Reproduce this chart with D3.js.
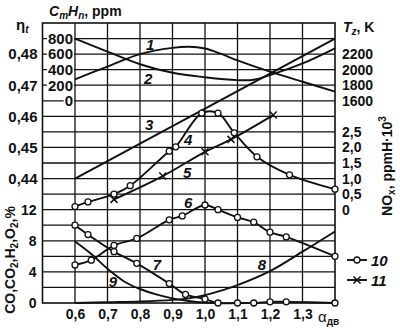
<!DOCTYPE html>
<html>
<head>
<meta charset="utf-8">
<script src="https://cdn.jsdelivr.net/npm/d3@7"></script>
<style>
  html, body { margin: 0; padding: 0; background: #fff; }
  svg { display: block; font-family: "Liberation Sans", Arial, sans-serif; font-weight: bold; }
</style>
</head>
<body>
<div id="chart"></div>
<script>
// Engine test curves vs. excess air ratio (alpha)
const alphaTicks = [0.6, 0.7, 0.8, 0.9, 1.0, 1.1, 1.2, 1.3];
const etaTicks = [0.44, 0.45, 0.46, 0.47, 0.48];
const ppmTicks = [0, 200, 400, 600, 800];
const tzTicks = [1600, 1800, 2000, 2200];
const noxTicks = [0, 0.5, 1.0, 1.5, 2.0, 2.5];
const pctTicks = [0, 4, 8, 12];

// [alpha, value]
const curve1Tz = [[0.6,1876],[0.7,2040],[0.8,2200],[0.9,2280],[0.95,2295],[1.0,2272],[1.05,2202],[1.1,2120],[1.2,1974],[1.3,1845],[1.4,1717]];
const curve2CmHn = [[0.6,800],[0.7,632],[0.8,470],[0.9,360],[1.0,302],[1.1,265],[1.15,270],[1.2,330],[1.3,480],[1.4,675]];
const curve3Eta = [[0.6,0.440],[1.4,0.485]];
const curve4NOx = [[0.6,0.10],[0.64,0.25],[0.72,0.50],[0.77,0.77],[0.89,1.88],[0.91,2.02],[0.99,3.10],[1.04,3.10],[1.09,2.47],[1.16,1.70],[1.26,1.12],[1.4,0.66]];
const curve5NOx = [[0.72,0.33],[0.87,1.08],[1.0,1.86],[1.08,2.26],[1.21,3.04]];
const curve6CO2 = [[0.6,4.9],[0.65,5.5],[0.72,7.4],[0.79,8.3],[0.89,10.7],[0.93,11.2],[1.0,12.6],[1.04,12.0],[1.1,11.0],[1.15,10.4],[1.2,9.1],[1.25,8.5],[1.4,6.0]];
const curve7CO = [[0.6,10.0],[0.64,8.8],[0.72,6.6],[0.79,5.1],[0.89,2.5],[0.94,1.1],[1.0,0.5],[1.04,0],[1.1,0],[1.15,0],[1.2,0.15],[1.25,0.15],[1.4,0]];
const curve8O2 = [[0.6,0],[0.7,0.1],[0.8,0.2],[0.9,0.4],[0.95,0.6],[1.0,1.0],[1.05,1.6],[1.1,2.3],[1.2,4.1],[1.3,6.6],[1.4,9.2]];
const curve9H2 = [[0.6,7.9],[0.65,6.3],[0.7,4.4],[0.75,2.8],[0.8,1.8],[0.85,1.1],[0.9,0.6],[0.95,0.25],[1.0,0.05],[1.05,0]];

// curve number labels: [text, alpha, position on % grid]
const curveLabels = [['1',0.831,33.2],['2',0.825,28.9],['3',0.828,22.9],['4',0.948,21.0],['5',0.945,16.8],['6',0.948,12.9],['7',0.852,4.9],['8',1.175,4.9],['9',0.717,2.8]];

(function() {
  const width = 400, height = 329;
  const top = 23, bottom = 303, left = 42.5, right = 335;
  const ink = '#111';

  const svg = d3.select('#chart').append('svg')
    .attr('width', width).attr('height', height);

  const x = d3.scaleLinear().domain([0.5, 1.4]).range([left, right]);
  const yPct = d3.scaleLinear().domain([0, 36]).range([bottom, top]);
  const yEta = d3.scaleLinear().domain([0.40, 0.49]).range([bottom, top]);
  const yPpm = d3.scaleLinear().domain([-2600, 1000]).range([bottom, top]);
  const yTz = d3.scaleLinear().domain([-1000, 2600]).range([bottom, top]);
  const yNox = d3.scaleLinear().domain([-3, 6]).range([bottom, top]);

  const comma = d => String(d).replace('.', ',');

  // grid
  const grid = svg.append('g').attr('stroke', ink).attr('stroke-width', 1.3);
  grid.selectAll('line.h').data(d3.range(2, 36, 2)).enter().append('line')
    .attr('x1', left).attr('x2', right)
    .attr('y1', d => yPct(d)).attr('y2', d => yPct(d));
  grid.selectAll('line.v').data(alphaTicks).enter().append('line')
    .attr('x1', d => x(d)).attr('x2', d => x(d))
    .attr('y1', top).attr('y2', bottom);
  svg.append('rect')
    .attr('x', left).attr('y', top)
    .attr('width', right - left).attr('height', bottom - top)
    .attr('fill', 'none').attr('stroke', ink).attr('stroke-width', 1.6);

  function styleAxis(size) {
    return g => {
      g.select('.domain').remove();
      g.attr('font-family', null).attr('font-size', size).attr('fill', ink);
      g.selectAll('text').attr('fill', ink);
    };
  }

  // left eta axis
  svg.append('g').attr('transform', `translate(${left - 4},0)`)
    .call(d3.axisLeft(yEta).tickValues(etaTicks).tickSize(0).tickPadding(1)
      .tickFormat(d => d3.format('.2f')(d).replace('.', ',')))
    .call(styleAxis(15));

  // left % axis
  svg.append('g').attr('transform', `translate(${left - 6},0)`)
    .call(d3.axisLeft(yPct).tickValues(pctTicks).tickSize(0).tickPadding(0).tickFormat(comma))
    .call(styleAxis(14));

  // ppm axis inside the frame, labels mask the grid
  const ppmAxis = svg.append('g').attr('transform', `translate(${x(0.6) - 2},0)`)
    .call(d3.axisLeft(yPpm).tickValues(ppmTicks).tickSize(0).tickPadding(0).tickFormat(comma))
    .call(styleAxis(15));
  ppmAxis.selectAll('.tick').each(function() {
    const t = d3.select(this).select('text');
    const b = t.node().getBBox();
    d3.select(this).insert('rect', 'text')
      .attr('x', b.x - 1).attr('y', b.y + 1)
      .attr('width', b.width + 2).attr('height', b.height - 2)
      .attr('fill', '#fff');
  });

  // right Tz axis
  svg.append('g').attr('transform', `translate(${right + 7},0)`)
    .call(d3.axisRight(yTz).tickValues(tzTicks).tickSize(0).tickPadding(0).tickFormat(d => d))
    .call(styleAxis(14));

  // right NOx axis
  svg.append('g').attr('transform', `translate(${right + 7},0)`)
    .call(d3.axisRight(yNox).tickValues(noxTicks).tickSize(0).tickPadding(0)
      .tickFormat(d => d === 0 ? '0' : d3.format('.1f')(d).replace('.', ',')))
    .call(styleAxis(14));

  // bottom alpha axis
  svg.append('g').attr('transform', `translate(0,${bottom + 6})`)
    .call(d3.axisBottom(x).tickValues(alphaTicks).tickSize(0).tickPadding(0)
      .tickFormat(d => d3.format('.1f')(d).replace('.', ',')))
    .call(styleAxis(14));

  // curves
  const curveGroup = svg.append('g').attr('fill', 'none').attr('stroke', ink).attr('stroke-width', 1.9);
  const line = y => d3.line().x(d => x(d[0])).y(d => y(d[1])).curve(d3.curveCatmullRom.alpha(0.5));
  const series = [
    [curve1Tz, yTz], [curve2CmHn, yPpm], [curve3Eta, yEta], [curve4NOx, yNox], [curve5NOx, yNox],
    [curve6CO2, yPct], [curve7CO, yPct], [curve8O2, yPct], [curve9H2, yPct]
  ];
  series.forEach(([data, y]) => curveGroup.append('path').attr('d', line(y)(data)));

  // markers
  const circleSets = [[curve4NOx, yNox], [curve6CO2, yPct], [curve7CO, yPct]];
  circleSets.forEach(([data, y]) => {
    svg.append('g').selectAll('circle').data(data).enter().append('circle')
      .attr('cx', d => x(d[0])).attr('cy', d => y(d[1])).attr('r', 3)
      .attr('fill', '#fff').attr('stroke', ink).attr('stroke-width', 1.3);
  });
  const cross = (g, cx, cy) => {
    g.append('path')
      .attr('d', `M${cx - 3.5},${cy - 3.5}L${cx + 3.5},${cy + 3.5}M${cx - 3.5},${cy + 3.5}L${cx + 3.5},${cy - 3.5}`)
      .attr('stroke', ink).attr('stroke-width', 1.5).attr('fill', 'none');
  };
  const crossG = svg.append('g');
  curve5NOx.forEach(d => cross(crossG, x(d[0]), yNox(d[1])));

  // curve numbers
  svg.append('g').selectAll('text').data(curveLabels).enter().append('text')
    .attr('x', d => x(d[1])).attr('y', d => yPct(d[2]))
    .attr('text-anchor', 'middle').attr('dominant-baseline', 'central')
    .attr('font-size', 15).attr('font-style', 'italic').attr('fill', ink)
    .text(d => d[0]);

  // axis titles
  const sub = (t, str, dy, size) => t.append('tspan').attr('dy', dy).attr('font-size', size || 10).text(str);

  const eta = svg.append('text').attr('x', 16).attr('y', 30).attr('font-size', 15).attr('fill', ink);
  eta.append('tspan').text('η');
  sub(eta, 't', 3).attr('font-style', 'italic');

  const hc = svg.append('text').attr('x', 49).attr('y', 16).attr('font-size', 14).attr('fill', ink);
  hc.append('tspan').attr('font-style', 'italic').text('C');
  sub(hc, 'm', 3).attr('font-style', 'italic');
  hc.append('tspan').attr('dy', -3).attr('font-style', 'italic').text('H');
  sub(hc, 'n', 3).attr('font-style', 'italic');
  hc.append('tspan').attr('dy', -3).text(', ppm');

  const tz = svg.append('text').attr('x', 343).attr('y', 32).attr('font-size', 14).attr('fill', ink);
  tz.append('tspan').attr('font-style', 'italic').text('T');
  sub(tz, 'z', 3).attr('font-style', 'italic');
  tz.append('tspan').attr('dy', -3).text(', K');

  const nox = svg.append('text').attr('transform', 'translate(392,166) rotate(-90)')
    .attr('text-anchor', 'middle').attr('font-size', 14).attr('fill', ink);
  nox.append('tspan').text('NO');
  sub(nox, 'x', 3);
  nox.append('tspan').attr('dy', -3).text(', ppmH·10');
  sub(nox, '3', -6);

  const pct = svg.append('text').attr('transform', 'translate(15,260) rotate(-90)')
    .attr('text-anchor', 'middle').attr('font-size', 14).attr('fill', ink);
  pct.append('tspan').text('CO,CO');
  sub(pct, '2', 3);
  pct.append('tspan').attr('dy', -3).text(',H');
  sub(pct, '2', 3);
  pct.append('tspan').attr('dy', -3).text(',O');
  sub(pct, '2', 3);
  pct.append('tspan').attr('dy', -3).text(',%');

  const al = svg.append('text').attr('x', 318).attr('y', 322).attr('font-size', 15).attr('fill', ink);
  al.append('tspan').attr('font-weight', 'normal').text('α');
  sub(al, 'дв', 3);

  // legend
  const legend = svg.append('g');
  [[260, 'circle', '10'], [280, 'cross', '11']].forEach(([ly, kind, label]) => {
    legend.append('line').attr('x1', 347).attr('x2', 367).attr('y1', ly).attr('y2', ly)
      .attr('stroke', ink).attr('stroke-width', 1.9);
    if (kind === 'circle') {
      legend.append('circle').attr('cx', 357).attr('cy', ly).attr('r', 3)
        .attr('fill', '#fff').attr('stroke', ink).attr('stroke-width', 1.3);
    } else {
      cross(legend, 357, ly);
    }
    legend.append('text').attr('x', 371).attr('y', ly).attr('dominant-baseline', 'central')
      .attr('font-size', 15).attr('font-style', 'italic').attr('fill', ink).text(label);
  });
})();
</script>
</body>
</html>
